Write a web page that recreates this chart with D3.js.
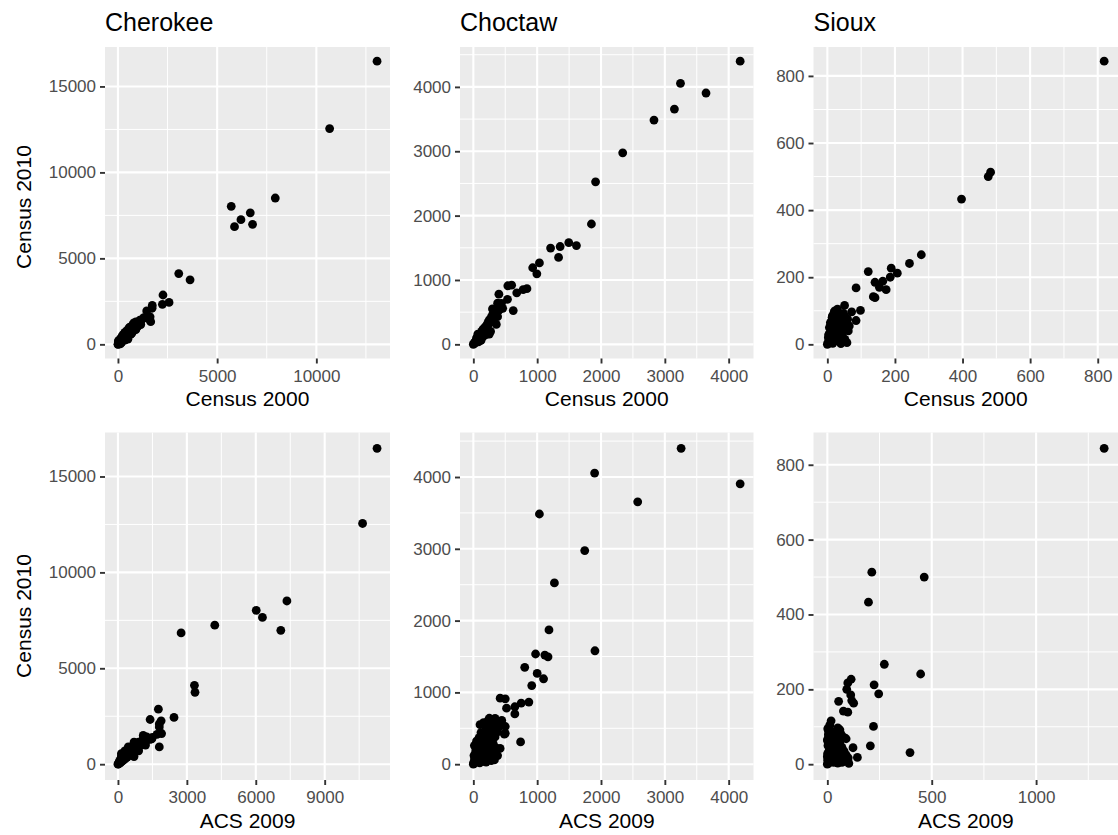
<!DOCTYPE html>
<html>
<head>
<meta charset="utf-8">
<script src="https://cdn.jsdelivr.net/npm/d3@7"></script>
<style>
  html, body { margin: 0; padding: 0; background: #fff; }
  text { font-family: "Liberation Sans", Arial, Helvetica, sans-serif; }
</style>
</head>
<body>
<svg id="paper"></svg>
<script>
// tribes shown as columns
var tribes = ["Cherokee", "Choctaw", "Sioux"];

// Cherokee: Census 2000, ACS 2009, Census 2010 (one entry per unit)
var cherokeeCensus2000 = [13060, 10670, 7930, 5710, 6670, 6200, 6785, 5875, 3065, 3635, 2270, 2575, 2240, 1730, 1720, 1450, 1620, 1650, 1530, 1200, 700,
    0, 15, 30, 50, 70, 95, 120, 150, 170, 200, 240, 270, 300, 330, 370, 400, 440, 470, 510, 550, 590, 630, 670, 720, 770, 820, 880, 940, 1000, 1070, 1130,
    250, 450, 600, 380, 800, 900,
    60, 180, 150, 350, 300, 520, 450, 700, 600, 850, 750, 1000, 1100, 900, 400, 1300,
    20, 120, 200, 400, 350, 650, 550, 900, 800, 1150, 250, 500];
var cherokeeAcs2009 = [11280, 10650, 7355, 6020, 6290, 4215, 7090, 2750, 3330, 3355, 1760, 2440, 1400, 1880, 1800, 1800, 1900, 1470, 1100, 1250, 1800,
    0, 20, 50, 35, 110, 80, 170, 120, 240, 190, 320, 260, 400, 330, 480, 420, 560, 500, 650, 600, 760, 690, 860, 780, 960, 900, 1050, 1000, 1150, 1100, 1300,
    150, 300, 450, 700, 1200, 700,
    150, 60, 350, 150, 600, 250, 800, 400, 950, 600, 1200, 800, 1500, 1400, 900, 1700,
    80, 40, 300, 150, 500, 300, 900, 650, 1100, 900, 150, 300];
var cherokeeCensus2010 = [16470, 12550, 8510, 8025, 7650, 7250, 6980, 6845, 4115, 3750, 2870, 2440, 2330, 2260, 2100, 1940, 1600, 1320, 1500, 1430, 900,
    0, 10, 45, 75, 85, 130, 150, 200, 210, 270, 290, 360, 370, 440, 450, 530, 540, 620, 630, 720, 730, 830, 840, 940, 950, 1060, 1070, 1180, 1200, 1300, 1330,
    420, 700, 900, 400, 1000, 1150,
    250, 100, 350, 250, 600, 450, 800, 650, 1000, 900, 1150, 1050, 1400, 1300, 700, 1550,
    200, 30, 450, 350, 700, 600, 950, 850, 1250, 1150, 550, 300];

// Choctaw
var choctawCensus2000 = [4180, 3245, 3645, 3150, 2830, 2340, 1915, 1850, 1495, 1615, 1360, 1210, 1335, 1035, 930, 995, 840, 780, 680, 600, 540, 400, 535, 625, 360, 380, 300, 320,
    0, 8, 18, 28, 40, 50, 62, 75, 88, 100, 112, 125, 140, 155, 168, 180, 195, 210, 225, 240, 255, 270, 285, 300, 320, 335, 350, 370, 390, 410, 430, 420, 440, 380, 460,
    230, 120, 60, 100, 150, 200, 260,
    20, 30, 40, 60, 80, 90, 110, 130, 160, 190, 210, 230, 250, 280, 300, 330, 360, 390, 270, 200, 150, 100, 330, 350, 380, 50, 70,
    150, 200, 250, 120];
var choctawAcs2009 = [3255, 1900, 4180, 2575, 1035, 1745, 1270, 1185, 1905, 975, 1120, 1170, 805, 1000, 1100, 915, 870, 750, 650, 420, 500, 520, 650, 500, 740, 500, 105, 486,
    0, 15, 5, 40, 20, 80, 35, 110, 50, 150, 70, 190, 100, 230, 130, 16, 270, 170, 310, 210, 120, 260, 340, 200, 300, 380, 250, 330, 280, 400, 445, 235, 340, 160, 300,
    50, 200, 150, 250, 60, 350, 90,
    100, 200, 280, 250, 180, 300, 220, 320, 260, 180, 120, 280, 220, 180, 280, 210, 180, 330, 40, 30, 10, 20, 120, 400, 250, 140, 60,
    380, 420, 340, 330];
var choctawCensus2010 = [4400, 4055, 3905, 3655, 3485, 2975, 2525, 1870, 1580, 1535, 1520, 1495, 1350, 1265, 1190, 1095, 865, 850, 800, 920, 910, 780, 700, 525, 310, 430, 550, 418,
    0, 10, 22, 35, 50, 62, 80, 95, 115, 125, 150, 160, 185, 195, 225, 260, 245, 280, 290, 320, 345, 350, 380, 400, 420, 450, 470, 490, 520, 540, 610, 615, 637, 580, 560,
    320, 130, 60, 100, 230, 230, 370,
    20, 30, 50, 80, 40, 120, 160, 200, 240, 270, 300, 340, 380, 420, 460, 500, 540, 600, 200, 150, 120, 80, 440, 520, 640, 100, 160,
    120, 220, 160, 60];

// Sioux
var siouxCensus2000 = [819, 483, 476, 397, 278, 243, 189, 121, 207, 186, 164, 141, 154, 174, 85, 136, 141, 51, 98, 72, 85, 60, 30, 25, 35, 40, 20, 65, 45, 48, 22, 15, 10,
    0, 3, 5, 8, 2, 10, 12, 15, 18, 20, 25, 28, 30, 35, 38, 40, 50, 55, 60, 5, 12, 18, 25, 32, 45, 28,
    3, 6, 9, 14, 20, 30, 36, 42, 22, 16, 26, 33, 44, 48, 52, 58, 62, 10, 7, 35,
    4, 11, 17, 24, 29, 8, 19, 27, 37, 46, 54, 13, 31, 41];
var siouxAcs2009 = [1326, 213, 464, 197, 273, 447, 114, 98, 224, 93, 246, 112, 117, 126, 54, 77, 98, 18, 221, 50, 81, 123, 206, 396, 144, 103, 77, 60, 80, 100, 10, 18, 3,
    0, 5, 10, 2, 30, 15, 40, 4, 60, 25, 8, 90, 35, 12, 70, 20, 45, 6, 30, 20, 8, 35, 50, 15, 28, 5,
    0, 3, 0, 6, 2, 12, 45, 55, 65, 50, 22, 40, 15, 60, 85, 70, 40, 25, 12, 90,
    1, 8, 30, 5, 18, 45, 75, 60, 28, 38, 52, 15, 3, 66];
var siouxCensus2010 = [844, 513, 500, 433, 267, 241, 227, 217, 212, 200, 188, 185, 170, 163, 168, 142, 139, 116, 101, 97, 71, 44, 49, 31, 18, 2, 71, 55, 35, 17, 100, 85, 60,
    0, 2, 8, 10, 5, 15, 12, 20, 18, 28, 35, 25, 40, 50, 45, 60, 70, 80, 75, 30, 45, 55, 65, 75, 85, 90,
    20, 50, 65, 80, 95, 105, 30, 20, 10, 3, 58, 62, 88, 92, 15, 5, 40, 38, 25, 68,
    28, 55, 45, 72, 85, 15, 35, 52, 22, 48, 66, 70, 12, 80];

// axis breaks
var cherokeeTicks2000 = [0, 5000, 10000];
var cherokeeTicksAcs = [0, 3000, 6000, 9000];
var cherokeeTicks2010 = [0, 5000, 10000, 15000];
var choctawTicks = [0, 1000, 2000, 3000, 4000];
var siouxTicks2000 = [0, 200, 400, 600, 800];
var siouxTicksAcs = [0, 500, 1000];
var siouxTicks2010 = [0, 200, 400, 600, 800];

var width = 1118, height = 835;

var svg = d3.select('#paper')
    .attr('width', width)
    .attr('height', height);

svg.append('rect').attr('width', width).attr('height', height).attr('fill', '#fff');

var colX = [[105, 390], [460, 753.5], [813.5, 1118]];
var rowY = [[47, 358.5], [432.5, 780]];
var yTitleY = [207, 616];

var panels = [
    {row: 0, col: 0, x: cherokeeCensus2000, y: cherokeeCensus2010, xt: cherokeeTicks2000, yt: cherokeeTicks2010, xlab: "Census 2000"},
    {row: 0, col: 1, x: choctawCensus2000, y: choctawCensus2010, xt: choctawTicks, yt: choctawTicks, xlab: "Census 2000"},
    {row: 0, col: 2, x: siouxCensus2000, y: siouxCensus2010, xt: siouxTicks2000, yt: siouxTicks2010, xlab: "Census 2000"},
    {row: 1, col: 0, x: cherokeeAcs2009, y: cherokeeCensus2010, xt: cherokeeTicksAcs, yt: cherokeeTicks2010, xlab: "ACS 2009"},
    {row: 1, col: 1, x: choctawAcs2009, y: choctawCensus2010, xt: choctawTicks, yt: choctawTicks, xlab: "ACS 2009"},
    {row: 1, col: 2, x: siouxAcs2009, y: siouxCensus2010, xt: siouxTicksAcs, yt: siouxTicks2010, xlab: "ACS 2009"}
];

// ggplot style 5% expansion
function expand(ext) {
    var pad = (ext[1] - ext[0]) * 0.05;
    return [ext[0] - pad, ext[1] + pad];
}

// minor breaks halfway between majors, inside the limits
function minors(ticks, dom) {
    var step = ticks[1] - ticks[0], out = [];
    for (var v = ticks[0] - step / 2; v <= dom[1]; v += step) {
        if (v >= dom[0]) out.push(v);
    }
    return out;
}

panels.forEach(function (p) {
    var x0 = colX[p.col][0], x1 = colX[p.col][1];
    var y0 = rowY[p.row][0], y1 = rowY[p.row][1];

    var xDom = expand(d3.extent(p.x)), yDom = expand(d3.extent(p.y));
    var x = d3.scaleLinear().domain(xDom).range([x0, x1]);
    var y = d3.scaleLinear().domain(yDom).range([y1, y0]);

    var g = svg.append('g');

    g.append('rect')
        .attr('x', x0).attr('y', y0)
        .attr('width', x1 - x0).attr('height', y1 - y0)
        .attr('fill', '#EBEBEB');

    // minor grid
    g.selectAll('.mx').data(minors(p.xt, xDom)).enter().append('line')
        .attr('x1', d => x(d)).attr('x2', d => x(d))
        .attr('y1', y0).attr('y2', y1)
        .attr('stroke', '#fff').attr('stroke-width', 1);
    g.selectAll('.my').data(minors(p.yt, yDom)).enter().append('line')
        .attr('y1', d => y(d)).attr('y2', d => y(d))
        .attr('x1', x0).attr('x2', x1)
        .attr('stroke', '#fff').attr('stroke-width', 1);

    // major grid
    g.selectAll('.gx').data(p.xt).enter().append('line')
        .attr('x1', d => x(d)).attr('x2', d => x(d))
        .attr('y1', y0).attr('y2', y1)
        .attr('stroke', '#fff').attr('stroke-width', 2.1);
    g.selectAll('.gy').data(p.yt).enter().append('line')
        .attr('y1', d => y(d)).attr('y2', d => y(d))
        .attr('x1', x0).attr('x2', x1)
        .attr('stroke', '#fff').attr('stroke-width', 2.1);

    // points
    var pts = p.x.map(function (v, i) { return [v, p.y[i]]; });
    g.selectAll('circle').data(pts).enter().append('circle')
        .attr('cx', d => x(d[0]))
        .attr('cy', d => y(d[1]))
        .attr('r', 4.4)
        .attr('fill', '#000');

    // x axis
    var xa = svg.append('g')
        .attr('transform', 'translate(0,' + y1 + ')')
        .call(d3.axisBottom(x).tickValues(p.xt).tickSize(5).tickPadding(6).tickFormat(d3.format('d')));
    // y axis
    var ya = svg.append('g')
        .attr('transform', 'translate(' + x0 + ',0)')
        .call(d3.axisLeft(y).tickValues(p.yt).tickSize(5).tickPadding(4).tickFormat(d3.format('d')));

    [xa, ya].forEach(function (a) {
        a.select('.domain').remove();
        a.selectAll('line').attr('stroke', '#333').attr('stroke-width', 1.9);
        a.selectAll('text')
            .attr('fill', '#4D4D4D')
            .style('font-size', '17px')
            .style('font-family', '"Liberation Sans", Arial, sans-serif');
    });

    // x title
    svg.append('text')
        .attr('x', (x0 + x1) / 2)
        .attr('y', y1 + 47.5)
        .attr('text-anchor', 'middle')
        .style('font-size', '21px')
        .attr('fill', '#000')
        .text(p.xlab);

    if (p.col === 0) {
        svg.append('text')
            .attr('transform', 'translate(31,' + yTitleY[p.row] + ') rotate(-90)')
            .attr('text-anchor', 'middle')
            .style('font-size', '21px')
            .attr('fill', '#000')
            .text('Census 2010');
    }

    if (p.row === 0) {
        svg.append('text')
            .attr('x', x0)
            .attr('y', 30.5)
            .style('font-size', '25px')
            .attr('fill', '#000')
            .text(tribes[p.col]);
    }
});
</script>
</body>
</html>
